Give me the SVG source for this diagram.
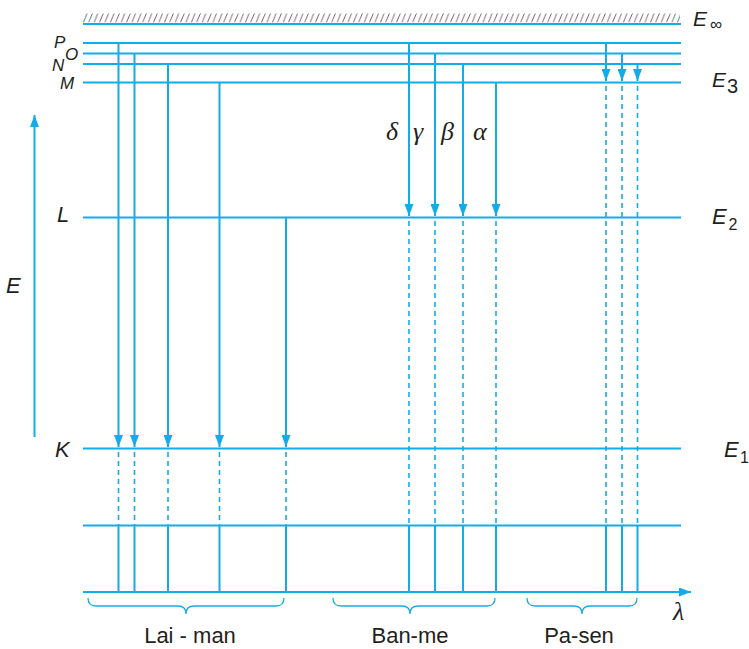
<svg xmlns="http://www.w3.org/2000/svg" width="749" height="649" viewBox="0 0 749 649">
<style>
.lvl{stroke:#12ade9;stroke-width:2;fill:none}
.tr{stroke:#12ade9;stroke-width:2;fill:none}
.ds{stroke:#12ade9;stroke-width:1.6;stroke-dasharray:5 4;fill:none}
.br{stroke:#12ade9;stroke-width:1.3;fill:none}
.lab{font-family:"Liberation Sans",Arial,sans-serif;font-style:italic;fill:#231f20}
.sub{font-family:"Liberation Sans",Arial,sans-serif;fill:#231f20}
.gr{font-family:"Liberation Serif","Times New Roman",serif;font-style:italic;font-size:26px;fill:#231f20}
.nm{font-family:"Liberation Sans",Arial,sans-serif;font-size:22px;fill:#231f20;text-anchor:middle}
</style>
<defs>
<pattern id="hatch" patternUnits="userSpaceOnUse" x="83" y="13" width="5.4" height="10">
<line x1="0.3" y1="9.5" x2="4" y2="0.5" stroke="#444" stroke-width="0.8"/>
</pattern>
<marker id="ah" markerUnits="userSpaceOnUse" markerWidth="12" markerHeight="9" refX="12" refY="4.5" orient="auto">
<path d="M0,0 L12,4.5 L0,9 z" fill="#12ade9"/>
</marker>
</defs>

<g id="level-inf">
<rect x="83" y="13" width="597" height="9.5" fill="url(#hatch)"/>
<line class="lvl" x1="83" y1="24" x2="681" y2="24"/>
<text class="lab" x="693" y="26" font-size="21">E</text>
<text class="sub" x="710" y="30" font-size="17">∞</text>
</g>
<g id="level-P">
<line class="lvl" x1="83" y1="43" x2="681" y2="43"/>
<text class="lab" x="54" y="48" font-size="17">P</text>
</g>
<g id="level-O">
<line class="lvl" x1="83" y1="53.5" x2="681" y2="53.5"/>
<text class="lab" x="65" y="60" font-size="17">O</text>
</g>
<g id="level-N">
<line class="lvl" x1="83" y1="64" x2="681" y2="64"/>
<text class="lab" x="52" y="71" font-size="17">N</text>
</g>
<g id="level-M">
<line class="lvl" x1="83" y1="82.5" x2="681" y2="82.5"/>
<text class="lab" x="60" y="88.5" font-size="17">M</text>
<text class="lab" x="712" y="87" font-size="21">E</text>
<text class="sub" x="727" y="93" font-size="20">3</text>
</g>
<g id="level-L">
<line class="lvl" x1="83" y1="217.5" x2="681" y2="217.5"/>
<text class="lab" x="57" y="222" font-size="22">L</text>
<text class="lab" x="712" y="224" font-size="22">E</text>
<text class="sub" x="728.5" y="230" font-size="16">2</text>
</g>
<g id="level-K">
<line class="lvl" x1="83" y1="448.5" x2="681" y2="448.5"/>
<text class="lab" x="55" y="457" font-size="22">K</text>
<text class="lab" x="724" y="457" font-size="22">E</text>
<text class="sub" x="740" y="463" font-size="16">1</text>
</g>
<g id="level-lower">
<line class="lvl" x1="83" y1="525.5" x2="681" y2="525.5"/>
</g>
<g id="axis-lambda">
<line class="lvl" x1="83" y1="592" x2="691" y2="592" marker-end="url(#ah)"/>
<text class="gr" x="673" y="620" font-size="24">λ</text>
</g>
<g id="axis-E">
<line class="lvl" x1="34.5" y1="437" x2="34.5" y2="115" marker-end="url(#ah)"/>
<text class="lab" x="6" y="293" font-size="22">E</text>
</g>

<g id="connectors">
<!-- Lyman -->
<line class="tr" x1="118.5" y1="43" x2="118.5" y2="447" marker-end="url(#ah)"/>
<line class="tr" x1="134.5" y1="53.5" x2="134.5" y2="447" marker-end="url(#ah)"/>
<line class="tr" x1="168" y1="64" x2="168" y2="447" marker-end="url(#ah)"/>
<line class="tr" x1="219.5" y1="82.5" x2="219.5" y2="447" marker-end="url(#ah)"/>
<line class="tr" x1="286" y1="217.5" x2="286" y2="447" marker-end="url(#ah)"/>
<path class="ds" d="M118.5,452V525 M134.5,452V525 M168,452V525 M219.5,452V525 M286,452V525"/>
<path class="tr" d="M118.5,525.5V592 M134.5,525.5V592 M168,525.5V592 M219.5,525.5V592 M286,525.5V592"/>
<!-- Balmer -->
<line class="tr" x1="409" y1="43" x2="409" y2="216" marker-end="url(#ah)"/>
<line class="tr" x1="435" y1="53.5" x2="435" y2="216" marker-end="url(#ah)"/>
<line class="tr" x1="463" y1="64" x2="463" y2="216" marker-end="url(#ah)"/>
<line class="tr" x1="496" y1="82.5" x2="496" y2="216" marker-end="url(#ah)"/>
<path class="ds" d="M409,221V525 M435,221V525 M463,221V525 M496,221V525"/>
<path class="tr" d="M409,525.5V592 M435,525.5V592 M463,525.5V592 M496,525.5V592"/>
<!-- Paschen -->
<line class="tr" x1="606" y1="43" x2="606" y2="81" marker-end="url(#ah)"/>
<line class="tr" x1="622" y1="53.5" x2="622" y2="81" marker-end="url(#ah)"/>
<line class="tr" x1="637.5" y1="64" x2="637.5" y2="81" marker-end="url(#ah)"/>
<path class="ds" d="M606,86V525 M622,86V525 M637.5,86V525"/>
<path class="tr" d="M606,525.5V592 M622,525.5V592 M637.5,525.5V592"/>
</g>

<g id="greek-labels">
<text class="gr" x="386" y="140">δ</text>
<text class="gr" x="413" y="140">γ</text>
<text class="gr" x="441" y="140">β</text>
<text class="gr" x="473" y="140">α</text>
</g>

<g id="series-lyman">
<path class="br" d="M88,598 Q88,606 96,606 L178,606 Q186,606 186,614 Q186,606 194,606 L276,606 Q284,606 284,598"/>
<text class="nm" x="190" y="643">Lai - man</text>
</g>
<g id="series-balmer">
<path class="br" d="M333,598 Q333,606 341,606 L402,606 Q410,606 410,614 Q410,606 418,606 L487,606 Q495,606 495,598"/>
<text class="nm" x="410" y="643">Ban-me</text>
</g>
<g id="series-paschen">
<path class="br" d="M527,598 Q527,606 535,606 L574,606 Q582,606 582,614 Q582,606 590,606 L629,606 Q637,606 637,598"/>
<text class="nm" x="579" y="643">Pa-sen</text>
</g>
</svg>
